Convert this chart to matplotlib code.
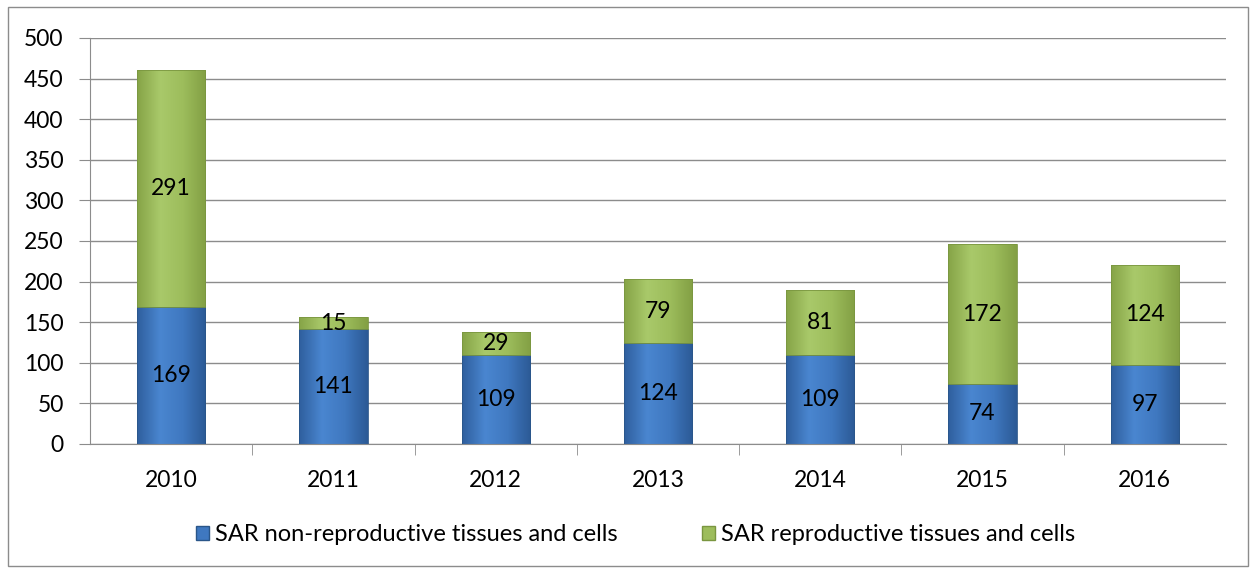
import matplotlib
matplotlib.use('Agg')
import matplotlib.pyplot as plt
import numpy as np
from matplotlib.colors import LinearSegmentedColormap
from matplotlib.patches import Rectangle

plt.rcParams['font.family'] = ['Lato', 'DejaVu Sans']

years = ['2010', '2011', '2012', '2013', '2014', '2015', '2016']
non_repro = [169, 141, 109, 124, 109, 74, 97]
repro = [291, 15, 29, 79, 81, 172, 124]
legend_labels = ['SAR non-reproductive tissues and cells', 'SAR reproductive tissues and cells']

blue_cmap = LinearSegmentedColormap.from_list('b', ['#2f5f9e', '#4a86d0', '#3f78c0', '#2c5a96'])
green_cmap = LinearSegmentedColormap.from_list('g', ['#86a447', '#a9c96a', '#9dbd5c', '#83a044'])

fig = plt.figure(figsize=(12.56, 5.69), dpi=100)
# chart area border
fig.patches.append(Rectangle((0.006, 0.006), 0.988, 0.982, transform=fig.transFigure,
                             fill=False, edgecolor='#8c8c8c', linewidth=1))
ax = fig.add_axes([0.0717, 0.2197, 0.9043, 0.7136])

x = np.arange(len(years))
w = 0.42
grad = np.linspace(0, 1, 64).reshape(1, -1)

def gbar(xs, h, b, cmap, edge):
    bars = ax.bar(xs, h, w, bottom=b, color='none', edgecolor=edge, linewidth=0.6, zorder=3)
    for r in bars:
        x0, y0 = r.get_x(), r.get_y()
        im = ax.imshow(grad, cmap=cmap, aspect='auto', zorder=2,
                       extent=(x0, x0 + r.get_width(), y0, y0 + r.get_height()))
        im.set_clip_path(r)
    return bars

b1 = gbar(x, non_repro, 0, blue_cmap, '#2a5689')
b2 = gbar(x, repro, non_repro, green_cmap, '#7a9640')

for i in range(len(years)):
    ax.text(x[i], non_repro[i] / 2, str(non_repro[i]), ha='center', va='center', fontsize=16.5, zorder=4)
    ax.text(x[i], non_repro[i] + repro[i] / 2, str(repro[i]), ha='center', va='center', fontsize=16.5, zorder=4)

ax.set_xlim(-0.5, len(years) - 0.5)
ax.set_ylim(0, 500)
ax.set_yticks(np.arange(0, 501, 50))
ax.set_xticks(x)
ax.set_xticklabels(years)
ax.set_xticks(np.arange(0.5, len(years) - 0.5, 1), minor=True)
ax.tick_params(axis='x', which='major', length=0, labelsize=16.5, pad=19)
ax.tick_params(axis='x', which='minor', length=8, color='#8c8c8c', direction='out')
ax.tick_params(axis='y', length=8, color='#8c8c8c', labelsize=16.5, pad=11)
ax.yaxis.grid(True, color='#8c8c8c', linewidth=1)
ax.set_axisbelow(True)
for s in ['top', 'right']:
    ax.spines[s].set_visible(False)
ax.spines['left'].set_color('#8c8c8c')
ax.spines['bottom'].set_color('#8c8c8c')

handles = [Rectangle((0, 0), 1, 1, facecolor='#3f78c0', edgecolor='#2a5689'),
           Rectangle((0, 0), 1, 1, facecolor='#9dbd5c', edgecolor='#7a9640')]
fig.legend(handles, legend_labels, loc='center', bbox_to_anchor=(0.506, 0.06), ncol=2,
           frameon=False, fontsize=17, handlelength=0.55, handleheight=0.55,
           handletextpad=0.25, columnspacing=3.6)

fig.savefig('out.png', dpi=100)
